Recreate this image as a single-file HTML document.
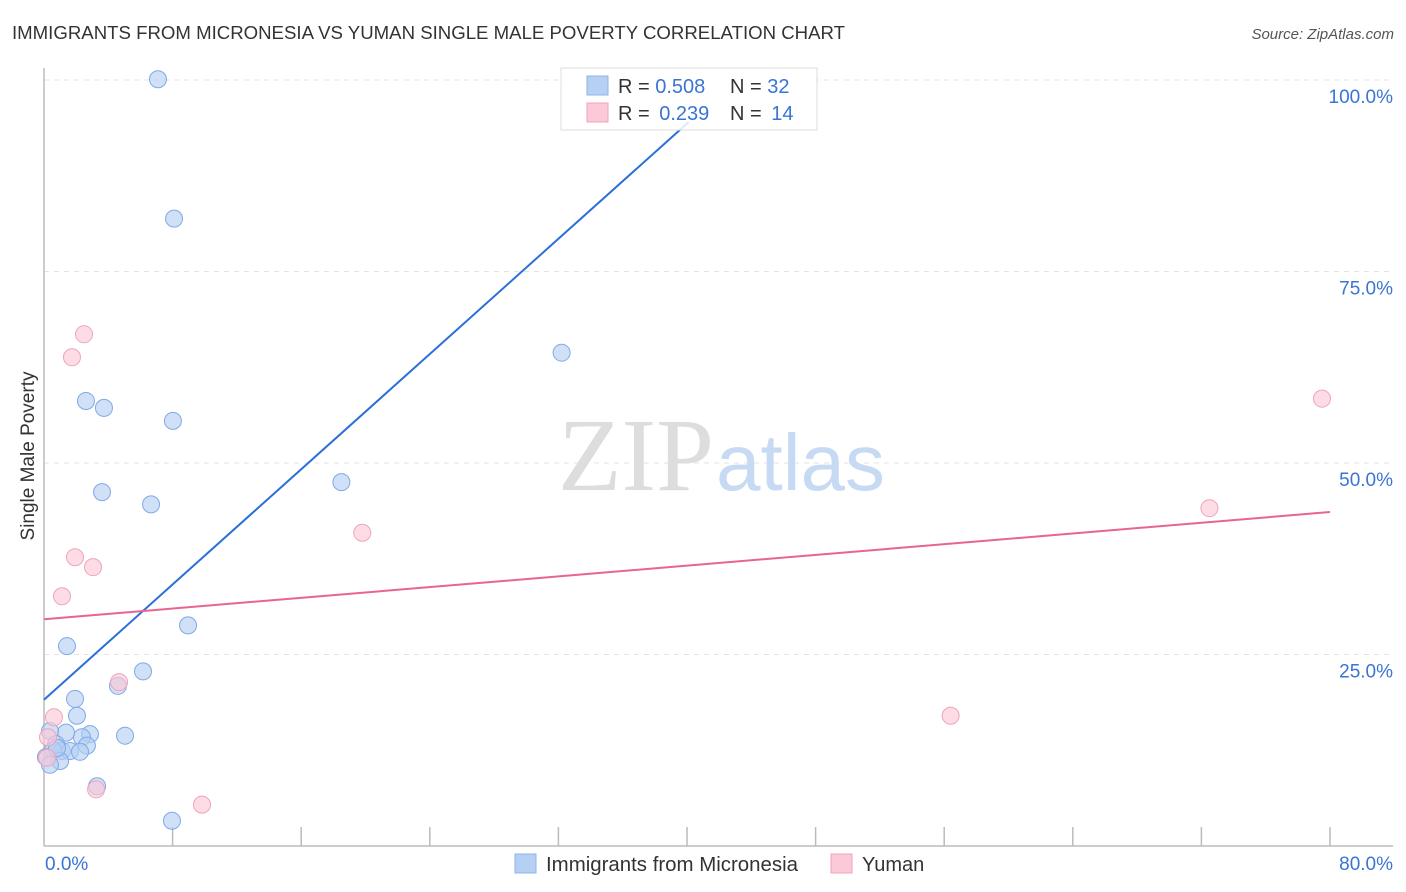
<!DOCTYPE html>
<html><head><meta charset="utf-8"><style>
body{margin:0;background:#fff;font-family:"Liberation Sans",sans-serif;}
svg{display:block}
</style></head><body>
<svg id="c" width="1406" height="892">
<text x="12" y="39" font-size="18" fill="#333" textLength="833" lengthAdjust="spacingAndGlyphs">IMMIGRANTS FROM MICRONESIA VS YUMAN SINGLE MALE POVERTY CORRELATION CHART</text>
<text x="1394" y="39" font-size="15" fill="#555" font-style="italic" text-anchor="end">Source: ZipAtlas.com</text>
<text x="34" y="456" font-size="19" fill="#333" text-anchor="middle" transform="rotate(-90 34 456)">Single Male Poverty</text>
<g id="grid"></g>
<text x="714" y="490" font-size="104" fill="#ddd" font-family="Liberation Serif,serif" text-anchor="end">ZIP</text>
<text x="716" y="490" font-size="80" fill="#c7daf3">atlas</text>
<g id="marks"></g>
<g>
<rect x="561" y="68" width="256" height="62" fill="#fff" fill-opacity="0.85" stroke="#ddd"/>
<rect x="587" y="76" width="21" height="19" fill="#b6d0f3" stroke="#8fb4e8"/>
<rect x="587" y="103" width="21" height="19" fill="#fcc9d8" stroke="#f0a3bb"/>
<text x="618" y="93" font-size="20" fill="#333">R = <tspan fill="#3a74d4">0.508</tspan></text>
<text x="730" y="93" font-size="20" fill="#333">N = <tspan fill="#3a74d4">32</tspan></text>
<text x="618" y="120" font-size="20" fill="#333">R = <tspan fill="#3a74d4" dx="4">0.239</tspan></text>
<text x="730" y="120" font-size="20" fill="#333">N = <tspan fill="#3a74d4" dx="4">14</tspan></text>
</g>
<g>
<rect x="515" y="854" width="21" height="19" fill="#b6d0f3" stroke="#8fb4e8"/>
<text x="546" y="871" font-size="20" fill="#333" textLength="252" lengthAdjust="spacingAndGlyphs">Immigrants from Micronesia</text>
<rect x="831" y="854" width="21" height="19" fill="#fcc9d8" stroke="#f0a3bb"/>
<text x="862" y="871" font-size="20" fill="#333">Yuman</text>
</g>
</svg>
<script>
const blueX=[7.09,8.09,32.2,2.61,3.73,8.02,18.5,3.61,6.66,8.96,1.43,6.16,4.60,1.93,2.05,5.04,2.86,2.36,1.37,0.37,0.75,2.67,1.12,1.62,2.24,0.56,0.12,1.0,0.37,3.30,7.96,0.81];
const blueY=[100.1,81.9,64.4,58.1,57.2,55.5,47.5,46.2,44.6,28.8,26.1,22.8,20.9,19.2,17.0,14.4,14.6,14.2,14.8,15.0,13.3,13.1,12.4,12.4,12.3,12.5,11.6,11.1,10.6,7.8,3.3,12.8];
const pinkX=[2.49,1.74,79.5,72.5,19.8,1.93,3.05,1.12,4.67,0.62,56.4,0.25,3.24,9.83,0.19];
const pinkY=[66.8,63.8,58.4,44.1,40.9,37.7,36.4,32.6,21.4,16.8,17.0,14.2,7.4,5.4,11.5];
const blueTrend=[[0,19.1],[40.1,94.5]];
const pinkTrend=[[0,29.6],[80,43.6]];
const yTicks=[25,50,75,100];
const xTicks=[0,8,16,24,32,40,48,56,64,72,80];
const NS="http://www.w3.org/2000/svg";
const sx=v=>44+v*1286/80, sy=v=>846-v*7.66;
function mk(p,t,a){const e=document.createElementNS(NS,t);for(const k in a)e.setAttribute(k,a[k]);p.appendChild(e);return e;}
const g=document.getElementById('grid'), m=document.getElementById('marks');
yTicks.forEach(v=>{
 const l=mk(g,'line',{x1:44,x2:1393,y1:sy(v),y2:sy(v),stroke:'#e3e3e3','stroke-dasharray':'5,5'});
 
 
 const t=mk(g,'text',{x:1393,y:sy(v)+23,'font-size':19,fill:'#3a74d4','text-anchor':'end'});
 t.textContent=v.toFixed(1)+'%';
 
 
});
const ax=mk(g,'line',{x1:44,x2:1393,y1:846,y2:846,stroke:'#bbb','stroke-width':1.5});


const ay=mk(g,'line',{x1:44,x2:44,y1:68,y2:846,stroke:'#bbb','stroke-width':1.5});


xTicks.slice(1).forEach(v=>{
 const l=mk(g,'line',{x1:sx(v),x2:sx(v),y1:827,y2:846,stroke:'#bbb','stroke-width':1.5});
 
 
});
[[0,'start',45],[80,'end',1393]].forEach(([v,a,x])=>{
 const t=mk(g,'text',{x:x,y:870,'font-size':19,fill:'#3a74d4','text-anchor':a});
 t.textContent=v.toFixed(1)+'%';
 
 
});
blueX.forEach((x,i)=>{
 const c=mk(m,'circle',{cx:sx(x),cy:sy(blueY[i]),r:8.5,fill:'#b6d0f3','fill-opacity':0.65,stroke:'#7faae6','stroke-width':1});
 
 
});
pinkX.forEach((x,i)=>{
 const c=mk(m,'circle',{cx:sx(x),cy:sy(pinkY[i]),r:8.5,fill:'#fcc9d8','fill-opacity':0.65,stroke:'#f0a3bb','stroke-width':1});
 
 
});
const bl=mk(m,'line',{x1:sx(blueTrend[0][0]),y1:sy(blueTrend[0][1]),x2:sx(blueTrend[1][0]),y2:sy(blueTrend[1][1]),stroke:'#2a6fd8','stroke-width':2});


const pl=mk(m,'line',{x1:sx(pinkTrend[0][0]),y1:sy(pinkTrend[0][1]),x2:sx(pinkTrend[1][0]),y2:sy(pinkTrend[1][1]),stroke:'#e8658f','stroke-width':2});


</script>
</body></html>
